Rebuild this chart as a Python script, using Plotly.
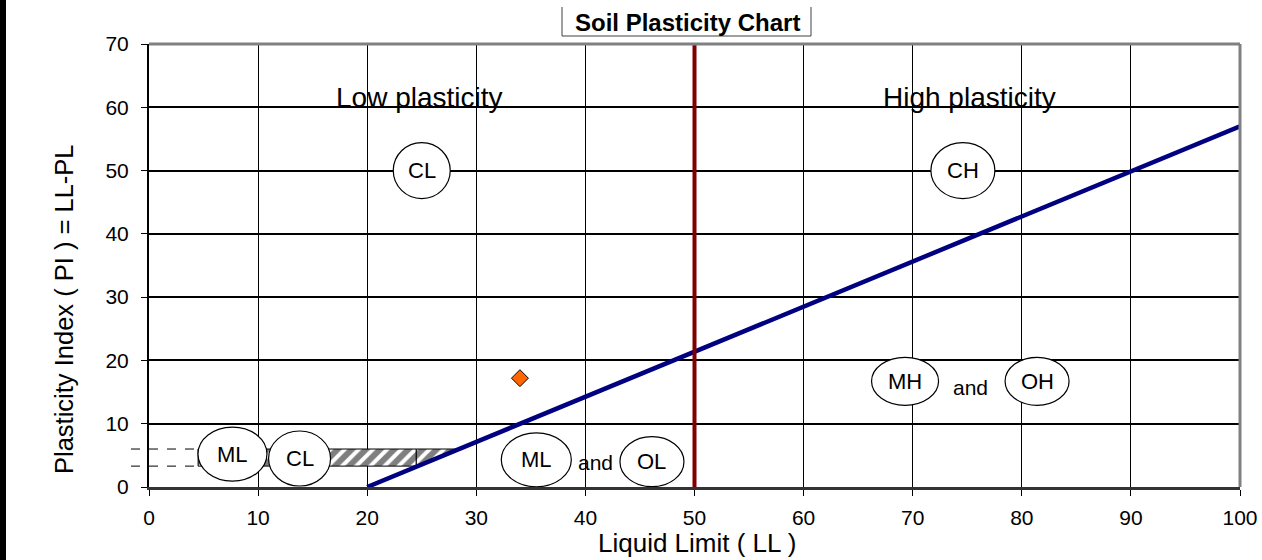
import plotly.graph_objects as go

# ---- data ----
a_line_ll = [20, 100]
a_line_pi = [0, 57]
b_line_ll = [50, 50]
b_line_pi = [0, 70]
sample_ll = [34]
sample_pi = [17.2]
hatch_rect_ll = [4.5, 24.5, 24.5, 4.5, 4.5]
hatch_rect_pi = [3.3, 3.3, 6.0, 6.0, 3.3]
hatch_tri_ll = [24.5, 28.4, 24.5, 24.5]
hatch_tri_pi = [3.2, 6.0, 6.0, 3.2]
dash_levels_pi = [6.0, 3.3]
x_ticks = [0, 10, 20, 30, 40, 50, 60, 70, 80, 90, 100]
y_ticks = [0, 10, 20, 30, 40, 50, 60, 70]

# zone labels: text, LL, PI, ellipse width px, height px
zones = [
    ("CL", 25.0, 50.0, 57, 56),
    ("CH", 74.6, 50.0, 64, 56),
    ("MH", 69.3, 16.7, 67, 48),
    ("OH", 81.4, 16.7, 64, 48),
    ("ML", 35.5, 4.3, 70, 54),
    ("OL", 46.1, 4.0, 64, 50),
    ("ML", 7.65, 5.2, 69, 54),
    ("CL", 13.8, 4.5, 62, 55),
]
and_labels = [("and", 75.3, 15.8), ("and", 40.9, 3.8)]
region_labels = [("Low plasticity", 24.8, 61.6), ("High plasticity", 75.2, 61.6)]

W, H = 1262, 560
ML_, MR, MT, MB = 149, 22, 44, 73
pw, ph = W - ML_ - MR, H - MT - MB
xr, yr = (0, 100), (0, 70)
ux = pw / (xr[1] - xr[0])
uy = ph / (yr[1] - yr[0])

FONT = "Liberation Sans, Arial, sans-serif"

def pxx(p):  # pixel x -> paper x
    return (p - ML_) / pw

def pxy(p):  # pixel y -> paper y
    return (H - MB - p) / ph

fig = go.Figure()

pat = dict(shape="/", fgcolor="black", bgcolor="white", size=10, solidity=0.6)
fig.add_trace(go.Scatter(x=hatch_rect_ll, y=hatch_rect_pi, mode="lines", fill="toself",
                         fillpattern=pat, line=dict(color="black", width=1), hoverinfo="skip"))
fig.add_trace(go.Scatter(x=hatch_tri_ll, y=hatch_tri_pi, mode="lines", fill="toself",
                         fillpattern=pat, line=dict(color="black", width=1), hoverinfo="skip"))
fig.add_trace(go.Scatter(x=a_line_ll, y=a_line_pi, mode="lines",
                         line=dict(color="#000080", width=4.5)))
fig.add_trace(go.Scatter(x=b_line_ll, y=b_line_pi, mode="lines",
                         line=dict(color="#800000", width=4)))
fig.add_trace(go.Scatter(x=sample_ll, y=sample_pi, mode="markers",
                         marker=dict(symbol="diamond", size=13, color="#FF6600",
                                     line=dict(color="black", width=1))))

shapes = []
# dashed guide lines at left
for lv in dash_levels_pi:
    shapes.append(dict(type="line", xref="paper", yref="y", x0=pxx(131), x1=pxx(205),
                       y0=lv, y1=lv, line=dict(color="black", width=1, dash="dash"), layer="above"))
# ellipses
for txt, cx, cy, wpx, hpx in zones:
    shapes.append(dict(type="circle", xref="x", yref="y",
                       x0=cx - wpx / 2 / ux, x1=cx + wpx / 2 / ux,
                       y0=cy - hpx / 2 / uy, y1=cy + hpx / 2 / uy,
                       line=dict(color="black", width=1.2), fillcolor="white", layer="above"))
# top and right frame (grey)
shapes.append(dict(type="line", xref="paper", yref="paper", x0=0, x1=1, y0=1, y1=1,
                   line=dict(color="#808080", width=3), layer="above"))
shapes.append(dict(type="line", xref="paper", yref="paper", x0=1, x1=1, y0=0, y1=1,
                   line=dict(color="#808080", width=3), layer="above"))
# black strip at left edge of image
shapes.append(dict(type="rect", xref="paper", yref="paper",
                   x0=pxx(0), x1=pxx(6), y0=pxy(H), y1=pxy(0),
                   line=dict(width=0), fillcolor="black", layer="above"))
# title box (left, bottom, right edges)
bx0, bx1, by0, by1 = pxx(562), pxx(811), pxy(7), pxy(36)
shapes.append(dict(type="path", xref="paper", yref="paper",
                   path=f"M {bx0},{by0} L {bx0},{by1} L {bx1},{by1} L {bx1},{by0}",
                   line=dict(color="#404040", width=1), layer="above"))

annotations = []
for txt, cx, cy, wpx, hpx in zones:
    annotations.append(dict(x=cx, y=cy, xref="x", yref="y", text=txt, showarrow=False,
                            font=dict(family=FONT, size=22, color="black")))
for txt, cx, cy in and_labels:
    annotations.append(dict(x=cx, y=cy, xref="x", yref="y", text=txt, showarrow=False,
                            font=dict(family=FONT, size=21, color="black")))
for txt, cx, cy in region_labels:
    annotations.append(dict(x=cx, y=cy, xref="x", yref="y", text=txt, showarrow=False,
                            font=dict(family=FONT, size=28, color="black")))
annotations.append(dict(x=pxx(687.5), y=pxy(22), xref="paper", yref="paper",
                        xanchor="center", yanchor="middle",
                        text="<b>Soil Plasticity Chart</b>", showarrow=False,
                        font=dict(family=FONT, size=24, color="black")))
# axis titles
annotations.append(dict(x=pxx(697), y=pxy(543), xref="paper", yref="paper",
                        xanchor="center", yanchor="middle",
                        text="Liquid Limit ( LL )", showarrow=False,
                        font=dict(family=FONT, size=26, color="black")))
annotations.append(dict(x=pxx(64), y=pxy(309), xref="paper", yref="paper",
                        xanchor="center", yanchor="middle", textangle=-90,
                        text="Plasticity Index ( PI ) = LL-PL", showarrow=False,
                        font=dict(family=FONT, size=25.5, color="black")))

fig.update_layout(
    width=W, height=H,
    margin=dict(l=ML_, r=MR, t=MT, b=MB, autoexpand=False),
    paper_bgcolor="rgba(0,0,0,0)", plot_bgcolor="white",
    showlegend=False,
    font=dict(family=FONT, size=21, color="black"),
    shapes=shapes, annotations=annotations,
    xaxis=dict(range=list(xr), tickvals=x_ticks, ticktext=[str(v) for v in x_ticks],
               showgrid=True, gridcolor="black", gridwidth=1,
               showline=True, linecolor="#333333", linewidth=3,
               ticks="outside", ticklen=6, tickcolor="black", tickwidth=1,
               tickfont=dict(size=21), zeroline=False, ticklabelstandoff=4),
    yaxis=dict(range=list(yr), tickvals=y_ticks, ticktext=[str(v) for v in y_ticks],
               showgrid=True, gridcolor="black", gridwidth=2,
               showline=True, linecolor="black", linewidth=2,
               ticks="outside", ticklen=6, tickcolor="black", tickwidth=1,
               tickfont=dict(size=21), zeroline=False, ticklabelstandoff=8),
)

fig.write_html(
    "out.html", config={"displayModeBar": False},
    post_script=("document.body.style.margin='0';"
                 "document.body.style.background='linear-gradient(to right, #000 0px, #000 6px, #fff 6px, #fff 100%)';"),
)
